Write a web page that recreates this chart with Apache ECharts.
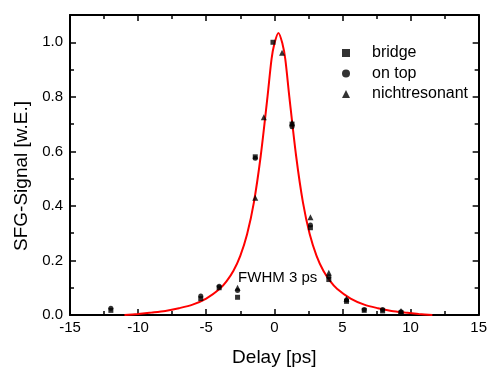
<!DOCTYPE html>
<html>
<head>
<meta charset="utf-8">
<script src="https://cdn.jsdelivr.net/npm/echarts@6/dist/echarts.min.js"></script>
<style>html,body{margin:0;padding:0;background:#fff}#c{width:490px;height:372px}</style>
</head>
<body>
<div id="c"></div>
<script>
// Measured data (Delay [ps], SFG-Signal [w.E.])
var bridgeX = [-12.0, -5.4, -4.05, -2.7, -1.4, -0.1, 1.3, 2.65, 4.0, 5.3, 6.6, 7.95, 9.3];
var bridgeY = [0.017, 0.06, 0.10, 0.065, 0.58, 1.0, 0.70, 0.32, 0.13, 0.05, 0.017, 0.015, 0.008];
var onTopX = [-12.0, -5.4, -4.05, -2.7, -1.4, 1.3, 2.65, 4.0, 5.3, 6.6, 7.95, 9.3];
var onTopY = [0.025, 0.07, 0.105, 0.09, 0.575, 0.69, 0.33, 0.14, 0.055, 0.02, 0.02, 0.012];
var nichtX = [-2.7, -1.4, -0.77, 0.57, 1.3, 2.65, 4.0, 5.3, 9.3];
var nichtY = [0.10, 0.43, 0.725, 0.962, 0.705, 0.358, 0.155, 0.06, 0.015];
// Fit curve
var fitX = [-11, -10, -9, -8, -7, -6, -5, -4, -3.5, -3, -2.5, -2, -1.5, -1, -0.5, -0.2, 0, 0.3, 0.6, 0.8, 1.1, 1.6, 2.1, 2.6, 3.1, 3.6, 4.1, 4.6, 5.6, 6.6, 7.6, 8.6, 9.6, 10.6, 11.6];
var fitY = [0.0, 0.004, 0.009, 0.015, 0.025, 0.038, 0.06, 0.096, 0.124, 0.162, 0.217, 0.296, 0.413, 0.583, 0.801, 0.94, 0.994, 1.034, 0.994, 0.94, 0.801, 0.583, 0.413, 0.296, 0.217, 0.162, 0.124, 0.096, 0.06, 0.038, 0.025, 0.015, 0.009, 0.004, 0.0];
var xTicks = {min: -15, max: 15, interval: 5};
var yTicks = {min: 0, max: 1.1, interval: 0.2};
var annotation = {text: 'FWHM 3 ps', x: -2.66, y: 0.138};

function zip(a, b) { return a.map(function (v, i) { return [v, b[i]]; }); }

var chart = echarts.init(document.getElementById('c'), null, {renderer: 'canvas'});
var font = 'Arial, "Liberation Sans", sans-serif';
var axisLine = {show: true, onZero: false, lineStyle: {color: '#000', width: 2}};
function xAx(pos, labels) {
  return {
    type: 'value', position: pos, min: xTicks.min, max: xTicks.max, interval: xTicks.interval,
    axisLine: axisLine,
    axisTick: {show: true, inside: true, length: 6, lineStyle: {color: '#000', width: 1.5}},
    minorTick: {show: true, splitNumber: 2, length: 4, lineStyle: {color: '#000', width: 1.5}},
    splitLine: {show: false},
    axisLabel: {show: labels, color: '#000', fontSize: 15, fontFamily: font, margin: 5},
    name: labels ? 'Delay [ps]' : '', nameLocation: 'middle', nameGap: 33,
    nameTextStyle: {color: '#000', fontSize: 19, fontFamily: font}
  };
}
function yAx(pos, labels) {
  return {
    type: 'value', position: pos, min: yTicks.min, max: yTicks.max, interval: yTicks.interval,
    axisLine: axisLine,
    axisTick: {show: true, inside: true, length: 6, lineStyle: {color: '#000', width: 1.5}},
    minorTick: {show: true, splitNumber: 2, length: 4, lineStyle: {color: '#000', width: 1.5}},
    splitLine: {show: false},
    axisLabel: {show: labels, color: '#000', fontSize: 15, fontFamily: font, margin: 7, showMaxLabel: false,
      formatter: function (v) { return v.toFixed(1); }},
    name: labels ? 'SFG-Signal [w.E.]' : '', nameLocation: 'middle', nameGap: 34,
    nameTextStyle: {color: '#000', fontSize: 19, fontFamily: font, padding: [0, 22, 0, 0]}
  };
}

chart.setOption({
  animation: false,
  backgroundColor: '#fff',
  grid: {left: 70, right: 10, top: 15, bottom: 54},
  xAxis: [xAx('bottom', true), xAx('top', false)],
  yAxis: [yAx('left', true), yAx('right', false)],
  legend: {
    orient: 'vertical', left: 337, top: 40, itemWidth: 8, itemHeight: 8, itemGap: 4.5,
    textStyle: {color: '#000', fontSize: 16, fontFamily: font, lineHeight: 16, padding: [0, 0, 0, 17]},
    data: [{name: 'bridge', icon: 'rect'}, {name: 'on top', icon: 'circle'}, {name: 'nichtresonant', icon: 'triangle'}]
  },
  series: [
    {
      name: 'fit', type: 'line', data: zip(fitX, fitY), smooth: 0.3, showSymbol: false, symbol: 'none',
      lineStyle: {color: '#ff0000', width: 2}, itemStyle: {color: '#ff0000'}, z: 1,
      markPoint: {
        symbol: 'circle', symbolSize: 0,
        data: [{coord: [annotation.x, annotation.y], value: annotation.text}],
        label: {show: true, position: 'right', distance: 0, formatter: annotation.text, color: '#000', fontSize: 15, fontFamily: font}
      }
    },
    {name: 'bridge', type: 'scatter', data: zip(bridgeX, bridgeY), symbol: 'rect', symbolSize: 5, itemStyle: {color: '#000'}, z: 3},
    {name: 'on top', type: 'scatter', data: zip(onTopX, onTopY), symbol: 'circle', symbolSize: 5, itemStyle: {color: '#000'}, z: 3},
    {name: 'nichtresonant', type: 'scatter', data: zip(nichtX, nichtY), symbol: 'triangle', symbolSize: 6, itemStyle: {color: '#000'}, z: 3}
  ]
});
</script>
</body>
</html>
